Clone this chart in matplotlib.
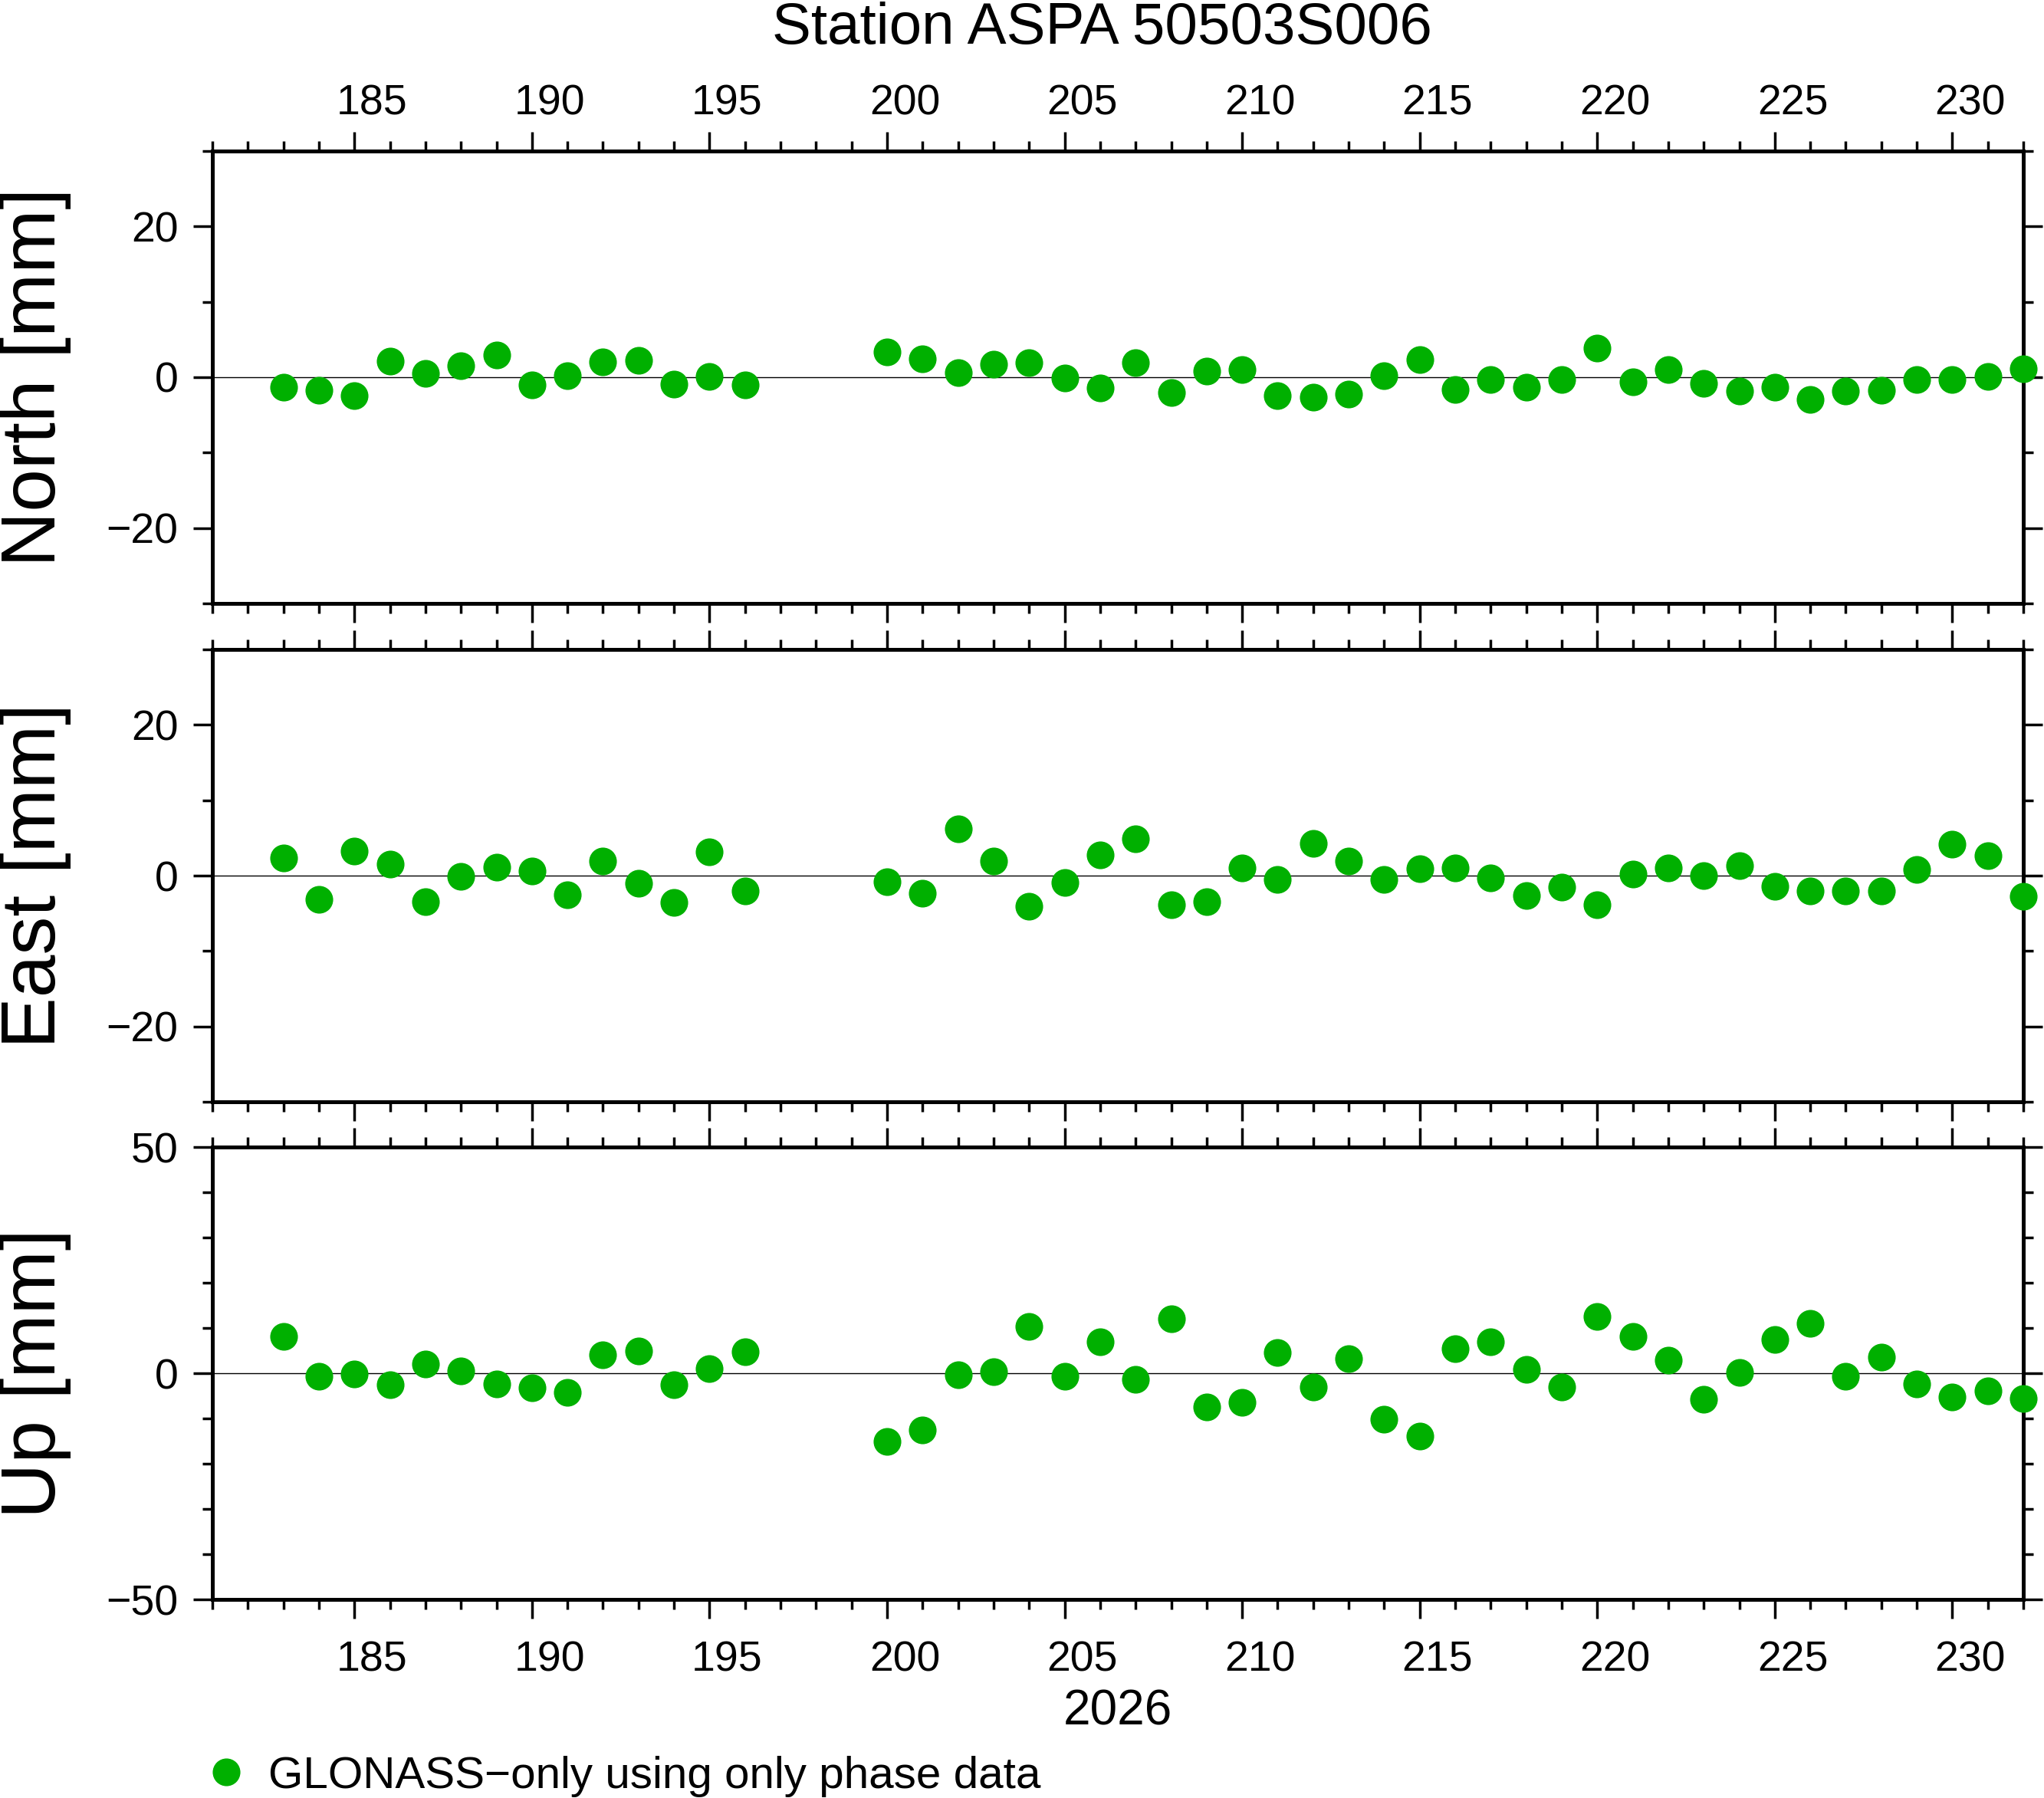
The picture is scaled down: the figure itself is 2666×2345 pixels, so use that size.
import numpy as np
import matplotlib
matplotlib.use("Agg")
import matplotlib.pyplot as plt
from matplotlib.ticker import MultipleLocator
from matplotlib.lines import Line2D
from matplotlib.transforms import ScaledTranslation

plt.rcParams['font.family'] = ['Liberation Sans', 'DejaVu Sans']

# day of year 2026
days = [183, 184, 185, 186, 187, 188, 189, 190, 191, 192, 193, 194, 195, 196,
        200, 201, 202, 203, 204, 205, 206, 207, 208, 209, 210, 211, 212, 213,
        214, 215, 216, 217, 218, 219, 220, 221, 222, 223, 224, 225, 226, 227,
        228, 229, 230, 231, 232]

north = [-1.3, -1.75, -2.4, 2.1, 0.5, 1.5, 2.9, -1.0, 0.2, 2.0, 2.2, -0.9, 0.1, -1.0,
         3.35, 2.45, 0.6, 1.75, 1.9, -0.15, -1.45, 1.9, -2.0, 0.8, 1.0, -2.45, -2.65, -2.25,
         0.2, 2.35, -1.65, -0.3, -1.3, -0.3, 3.9, -0.65, 1.0, -0.8, -1.8, -1.3, -3.0, -1.85,
         -1.75, -0.3, -0.3, 0.1, 1.15]

east = [2.33, -3.15, 3.27, 1.52, -3.46, -0.12, 1.09, 0.62, -2.53, 1.95, -1.05, -3.54, 3.15, -2.06,
        -0.82, -2.33, 6.19, 1.95, -4.09, -0.9, 2.76, 4.9, -3.85, -3.42, 1.01, -0.51, 4.24, 1.95,
        -0.51, 0.93, 1.01, -0.31, -2.65, -1.56, -3.89, 0.19, 1.01, 0.0, 1.32, -1.44, -2.06, -2.06,
        -2.06, 0.82, 4.16, 2.61, -2.72]

up = [8.2, -0.6, -0.1, -2.6, 2.0, 0.6, -2.4, -3.2, -4.3, 4.1, 5.0, -2.6, 1.1, 4.8,
      -15.0, -12.5, -0.4, 0.4, 10.4, -0.6, 6.9, -1.3, 12.1, -7.4, -6.4, 4.6, -3.0, 3.3,
      -10.2, -13.8, 5.4, 6.9, 0.9, -3.0, 12.6, 8.1, 2.9, -5.7, 0.2, 7.4, 11.0, -0.6,
      3.5, -2.3, -5.2, -3.9, -5.6]

components = ['North [mm]', 'East [mm]', 'Up [mm]']
series = [north, east, up]
ylims = [(-30, 30), (-30, 30), (-50, 50)]
ymajor = [20, 20, 50]

green = '#00b000'

fig = plt.figure(figsize=(26.66, 23.45), dpi=100)

left, width, height = 0.1039, 0.886, 0.2516
bottoms = [0.6644, 0.3872, 0.1104]

# day labels sit in the middle of the day interval (GMT style)
shift = ScaledTranslation(0.232, -0.09, fig.dpi_scale_trans)

axes = []
for i, (lab, vals) in enumerate(zip(components, series)):
    ax = fig.add_axes([left, bottoms[i], width, height])
    ax.axhline(0, color='black', lw=1.0, zorder=1)
    ax.plot(days, vals, 'o', color=green, markersize=26, markeredgewidth=0,
            clip_on=False, zorder=3)
    ax.set_xlim(181, 232)
    ax.set_ylim(*ylims[i])
    ax.xaxis.set_major_locator(MultipleLocator(5))
    ax.xaxis.set_minor_locator(MultipleLocator(1))
    ax.yaxis.set_major_locator(MultipleLocator(ymajor[i]))
    ax.yaxis.set_minor_locator(MultipleLocator(10))
    ax.tick_params(which='both', direction='out', top=True, bottom=True,
                   left=True, right=True, width=2.5, labelsize=40)
    ax.tick_params(which='major', length=18)
    ax.tick_params(which='minor', length=9.5)
    ax.tick_params(axis='x', pad=14)
    ax.tick_params(axis='y', pad=14)
    ax.tick_params(axis='x', labeltop=(i == 0), labelbottom=(i == 2))
    for s in ax.spines.values():
        s.set_linewidth(3.6)
    ax.set_ylabel(lab, fontsize=72)
    ax.yaxis.set_label_coords(-0.078, 0.5)
    for t in ax.xaxis.get_major_ticks():
        t.label1.set_transform(t.label1.get_transform() + shift)
        t.label2.set_transform(t.label2.get_transform() + shift)
    axes.append(ax)

axes[2].set_xlabel('2026', fontsize=46, labelpad=8)
fig.text(0.539, 0.9755, 'Station ASPA 50503S006', fontsize=55,
         ha='center', va='baseline')

handle = Line2D([], [], marker='o', linestyle='none', color=green,
                markersize=26, markeredgewidth=0)
fig.legend([handle], ['GLONASS\u2212only using only phase data'],
           loc='center left', bbox_to_anchor=(0.102, 0.012), frameon=False,
           fontsize=42, handlelength=0.8, handletextpad=0.53,
           borderpad=0, borderaxespad=0)

fig.savefig('out.png', dpi=100)
